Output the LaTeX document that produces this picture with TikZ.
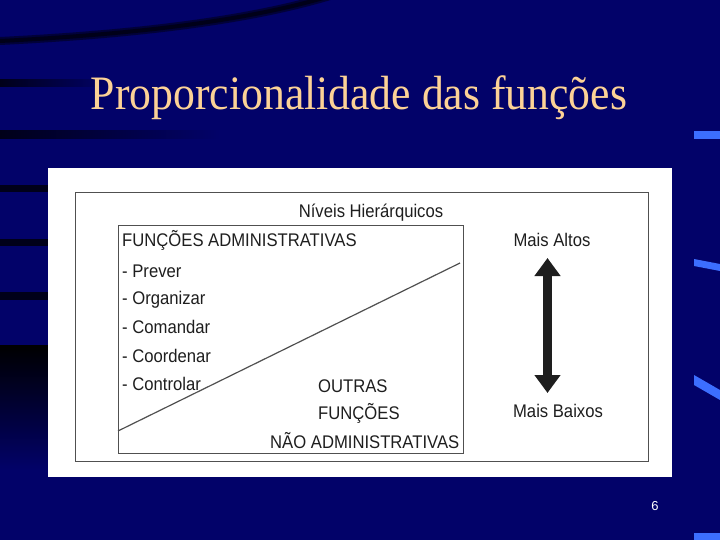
\documentclass[tikz,border=0pt]{standalone}
\usepackage{fontspec}
\setmainfont{Liberation Serif}
\newfontfamily\arialf{Liberation Sans}
\usetikzlibrary{arrows.meta}
\definecolor{bgblue}{RGB}{2,2,105}
\definecolor{bgdark}{RGB}{0,0,25}
\definecolor{titlecol}{RGB}{252,210,150}
\definecolor{streak}{RGB}{60,110,255}
\definecolor{txtgray}{RGB}{30,30,30}
\definecolor{framegray}{RGB}{80,80,80}
\tikzset{
  lbl/.style={font=\arialf\fontsize{18.3}{20}\selectfont, text=txtgray, inner sep=0pt, anchor=base west},
  lblc/.style={lbl, anchor=base},
  frame/.style={draw=framegray, line width=1pt},
  stripe/.style={line width=6pt, draw=bgdark},
}
\newcommand{\sq}[1]{\scalebox{0.91}[1]{#1}}
\begin{document}
\begin{tikzpicture}[x=1pt,y=-1pt]
\useasboundingbox (0,0) rectangle (720,540);
% background
\fill[bgblue] (0,0) rectangle (720,540);
% dark stripes on the left
\draw[line width=8pt, draw=bgdark!60!bgblue] (0,41) .. controls (140,34) and (250,20) .. (330,-4);
\draw[line width=4pt, draw=bgdark] (0,41) .. controls (140,34) and (250,20) .. (330,-4);
\shade[left color=bgdark, right color=bgblue] (0,80) rectangle (110,87);
\shade[left color=bgdark, right color=bgblue] (0,131) rectangle (220,139);
\fill[bgdark] (0,185) rectangle (60,192);
\fill[bgdark] (0,239) rectangle (60,246);
\fill[bgdark] (0,292) rectangle (60,300);
\shade[top color=black, bottom color=bgblue] (0,345) rectangle (60,470);
% light streaks on the right
\fill[streak] (694,131) rectangle (720,139);
\fill[streak] (694,259) -- (720,264) -- (720,271) -- (694,266) -- cycle;
\fill[streak] (694,375) -- (720,390) -- (720,400) -- (694,385) -- cycle;
\fill[streak] (694,533) rectangle (720,540);
% title
\node[font=\fontsize{48}{52}\selectfont, text=titlecol, anchor=base, inner sep=0pt] (title) at (359,110) {\sq{Proporcionalidade das funções}};
% white panel
\fill[white] (48,168) rectangle (672,477);
\draw[frame] (75,193) rectangle (648,461);
\draw[frame] (118,226) rectangle (463,453);
% diagonal line
\coordinate (dl) at (118,431);
\coordinate (dr) at (460,263);
\draw[draw=framegray, line width=1.2pt] (dl) -- (dr);
% texts
\node[lblc] (niveis) at (371,218) {\sq{Níveis Hierárquicos}};
\node[lbl] (fadm) at (122,247) {\sq{FUNÇÕES ADMINISTRATIVAS}};
\node[lbl] (f1) at (122,277) {\sq{- Prever}};
\node[lbl] (f2) at (122,304) {\sq{- Organizar}};
\node[lbl] (f3) at (122,333) {\sq{- Comandar}};
\node[lbl] (f4) at (122,362) {\sq{- Coordenar}};
\node[lbl] (f5) at (122,390) {\sq{- Controlar}};
\node[lbl] (o1) at (318,392) {\sq{OUTRAS}};
\node[lbl] (o2) at (318,419) {\sq{FUNÇÕES}};
\node[lbl] (o3) at (270,448) {\sq{NÃO ADMINISTRATIVAS}};
\node[lblc] (altos) at (552,246) {\sq{Mais Altos}};
\node[lblc] (baixos) at (558,417) {\sq{Mais Baixos}};
% double arrow
\coordinate (atop) at (547.5,258);
\coordinate (abot) at (547.5,393);
\draw[line width=9pt, draw={rgb,255:red,30;green,30;blue,30},
  {Triangle[width=25pt,length=18pt]}-{Triangle[width=25pt,length=18pt]}] (atop) -- (abot);
% page number
\node[font=\arialf\fontsize{13}{14}\selectfont, text=white, inner sep=0pt, anchor=base] (pg) at (655,510) {6};
\end{tikzpicture}
\end{document}
